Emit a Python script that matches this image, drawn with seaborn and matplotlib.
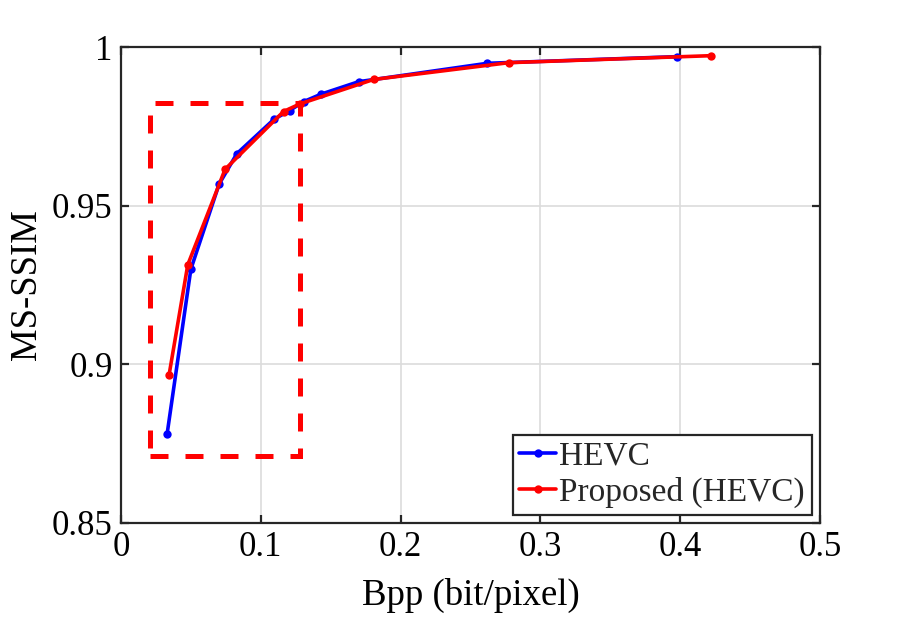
import seaborn as sns
import matplotlib.pyplot as plt
import pandas as pd
from matplotlib.patches import Rectangle

# valeurs
hevc_bpp = [0.033, 0.050, 0.0702, 0.0829, 0.1096, 0.1206, 0.1306, 0.1433, 0.170, 0.262, 0.398]
hevc_ssim = [0.878, 0.930, 0.9568, 0.9664, 0.9773, 0.9800, 0.9828, 0.9852, 0.9891, 0.9949, 0.9970]

prop_bpp = [0.0344, 0.0478, 0.0745, 0.1163, 0.128, 0.1807, 0.2775, 0.422]
prop_ssim = [0.8966, 0.9314, 0.9615, 0.9797, 0.9821, 0.9898, 0.9951, 0.9973]

x_ticks = [0, 0.1, 0.2, 0.3, 0.4, 0.5]
x_labels = ["0", "0.1", "0.2", "0.3", "0.4", "0.5"]
y_ticks = [0.85, 0.9, 0.95, 1.0]
y_labels = ["0.85", "0.9", "0.95", "1"]

# zone agrandie (cadre en pointillés)
zoom_x = (0.0208, 0.128)
zoom_y = (0.871, 0.9824)

df = pd.concat([
    pd.DataFrame({'bpp': hevc_bpp, 'ssim': hevc_ssim, 'methode': 'HEVC'}),
    pd.DataFrame({'bpp': prop_bpp, 'ssim': prop_ssim, 'methode': 'Proposed (HEVC)'}),
])

sns.set_theme(style="whitegrid")
plt.rcParams['font.family'] = ['Liberation Serif', 'DejaVu Serif']

fig = plt.figure(figsize=(9.04, 6.2), dpi=100)
ax = fig.add_axes([0.1338, 0.1565, 0.907 - 0.1338, 0.924 - 0.1565])

sns.lineplot(data=df, x='bpp', y='ssim', hue='methode',
             palette={'HEVC': '#0000ff', 'Proposed (HEVC)': '#ff0000'},
             marker='o', markersize=6, markeredgewidth=0, linewidth=2.6,
             sort=False, estimator=None, ax=ax)

rect = Rectangle((zoom_x[0], zoom_y[0]), zoom_x[1] - zoom_x[0], zoom_y[1] - zoom_y[0],
                 fill=False, edgecolor='#ff0000', linewidth=3.6,
                 linestyle=(0, (3.6, 3.4)), zorder=5)
ax.add_patch(rect)

ax.set_xlim(0, 0.5)
ax.set_ylim(0.85, 1.0)
ax.set_xticks(x_ticks)
ax.set_xticklabels(x_labels)
ax.set_yticks(y_ticks)
ax.set_yticklabels(y_labels)
ax.grid(True, color='#dcdcdc', linewidth=1.2)

for s in ax.spines.values():
    s.set_visible(True)
    s.set_color('#262626')
    s.set_linewidth(1.6)

ax.tick_params(axis='both', which='both', direction='in', length=6, width=1.6,
               color='#262626', labelsize=25, labelcolor='black',
               top=True, right=True, bottom=True, left=True, pad=6)

ax.set_xlabel('Bpp (bit/pixel)', fontsize=26.5, color='black', labelpad=10)
ax.set_ylabel('MS-SSIM', fontsize=26.5, color='black', labelpad=6)

leg = ax.legend(loc='lower right', fontsize=24, frameon=True, fancybox=False,
                handlelength=1.1, handletextpad=0.1, borderpad=0.2,
                labelspacing=0.15, borderaxespad=0.25)
leg.get_frame().set_edgecolor('#262626')
leg.get_frame().set_linewidth(1.6)
leg.get_frame().set_alpha(1)

fig.savefig('out.png', dpi=100)
